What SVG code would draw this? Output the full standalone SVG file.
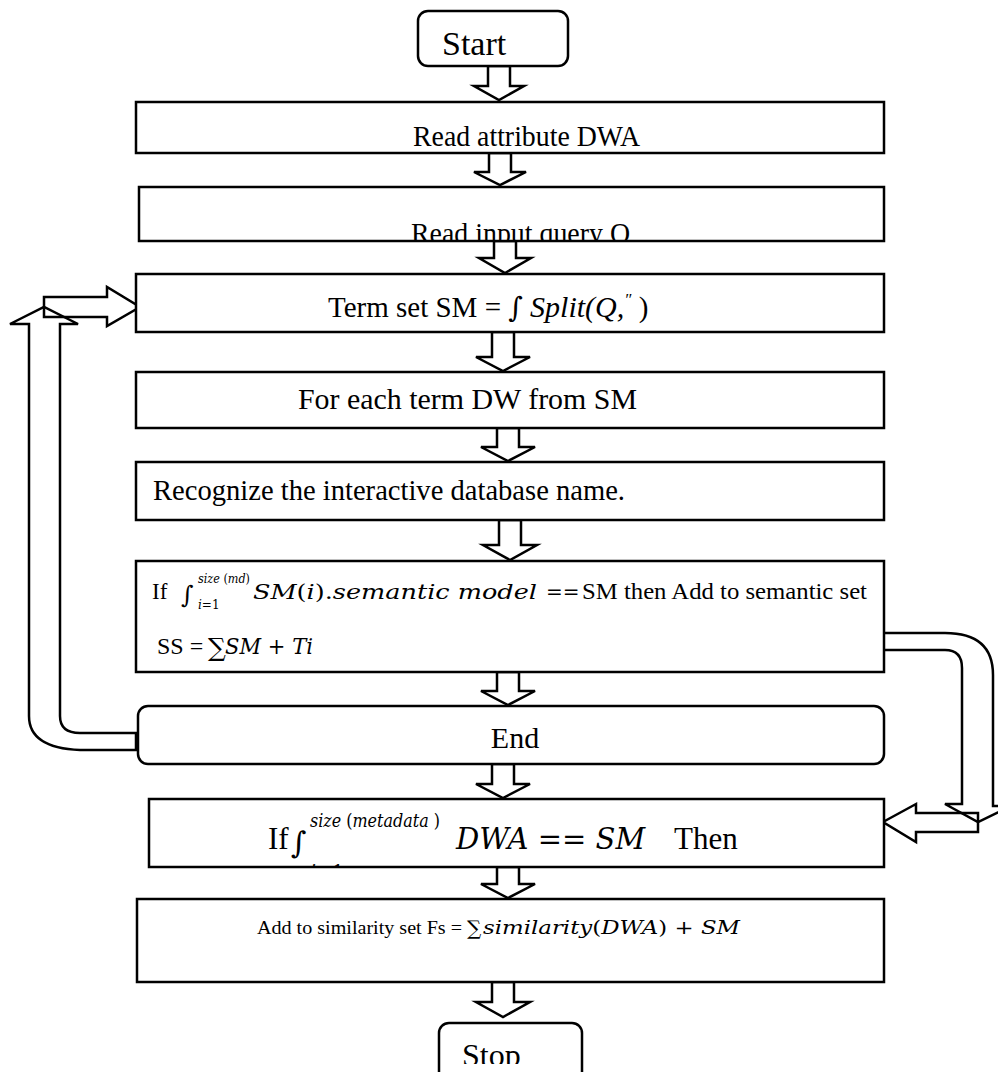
<svg xmlns="http://www.w3.org/2000/svg" width="998" height="1072" viewBox="0 0 998 1072">
  <style>
    .box { fill: #ffffff; stroke: #000000; stroke-width: 2.5; }
    .arr { fill: #ffffff; stroke: #000000; stroke-width: 2.5; stroke-linejoin: miter; }
    .link { fill: none; stroke: #000000; stroke-width: 2.5; stroke-linejoin: miter; }
    text { fill: #000000; }
    .t { font-family: 'Liberation Serif', 'Times New Roman', serif; }
    .m { font-family: 'DejaVu Serif', serif; font-style: italic; }
    .mi { font-family: 'Liberation Serif', 'Times New Roman', serif; font-style: italic; }
    .sym { font-family: 'DejaVu Serif', serif; font-style: normal; }
  </style>
  <defs>
    <clipPath id="clipQuery"><rect x="139" y="187" width="745" height="54"/></clipPath>
    <clipPath id="clipIfMeta"><rect x="149" y="799" width="735" height="67"/></clipPath>
    <clipPath id="clipStop"><rect x="0" y="1020" width="998" height="44"/></clipPath>
  </defs>

  <rect width="998" height="1072" fill="#ffffff"/>

  <!-- connectors -->
  <g id="connectors">
    <!-- straight hollow arrows between consecutive steps -->
    <path class="arr" d="M488,66 V86 H474 L499,100 L524,86 H510 V66 Z"/>
    <path class="arr" d="M489,153 V172 H474 L500,185 L526,172 H511 V153 Z"/>
    <path class="arr" d="M494,241 V258 H479 L505,273 L531,258 H516 V241 Z"/>
    <path class="arr" d="M492,332 V357 H476 L503,371 L530,357 H514 V332 Z"/>
    <path class="arr" d="M497,428 V447 H481 L508,461 L535,447 H519 V428 Z"/>
    <path class="arr" d="M499,520 V545 H483 L510,560 L537,545 H521 V520 Z"/>
    <path class="arr" d="M497,672 V691 H481 L508,705 L535,691 H519 V672 Z"/>
    <path class="arr" d="M492,764 V784 H476 L503,798 L530,784 H514 V764 Z"/>
    <path class="arr" d="M497,867 V884 H481 L508,898 L535,884 H519 V867 Z"/>
    <path class="arr" d="M492,982 V1002 H476 L503,1017 L530,1002 H514 V982 Z"/>

    <!-- loop back from End to Term set -->
    <path class="link" d="M136,750 H80 Q29,748 29,716 V324 H10 L44,307 L78,324 H60 V716 Q60,733 80,733 H136 Z"/>
    <path class="link" d="M44,297 H107 V287 L140,307 L107,326 V317 H44 Z"/>

    <!-- branch from semantic check to metadata check -->
    <path class="link" d="M884,633 H945 Q993,633 993,675 V806 H1011 L978,822 L945,804 H962 V668 Q962,650 945,650 H884"/>
    <path class="link" d="M978,813 H916 V804 L883,822 L916,842 V832 H978 Z"/>
  </g>

  <!-- Start -->
  <g id="start">
    <rect class="box" x="418" y="11" width="150" height="55" rx="10"/>
    <text class="t" font-family="Liberation Serif" x="442" y="55" font-size="34">Start</text>
  </g>

  <g id="read-attribute">
    <rect class="box" x="136" y="102" width="748" height="51"/>
    <text class="t" font-family="Liberation Serif" x="413" y="146" font-size="30" textLength="227" lengthAdjust="spacingAndGlyphs">Read attribute DWA</text>
  </g>

  <g id="read-query">
    <rect class="box" x="139" y="187" width="745" height="54"/>
    <text class="t" font-family="Liberation Serif" x="411" y="243" font-size="30" textLength="219" lengthAdjust="spacingAndGlyphs" clip-path="url(#clipQuery)">Read input query Q</text>
  </g>

  <g id="term-set">
    <rect class="box" x="136" y="274" width="748" height="58"/>
    <text class="t" font-family="Liberation Serif" x="328" y="317" font-size="29">Term set SM = <tspan class="sym" font-size="28">∫</tspan> <tspan class="mi" font-size="30">Split(Q,</tspan><tspan class="mi" font-size="17" dy="-12">″</tspan><tspan dy="12"> )</tspan></text>
  </g>

  <g id="for-each">
    <rect class="box" x="136" y="372" width="748" height="56"/>
    <text class="t" font-family="Liberation Serif" x="298" y="409" font-size="30" textLength="339" lengthAdjust="spacingAndGlyphs">For each term DW from SM</text>
  </g>

  <g id="recognize">
    <rect class="box" x="136" y="462" width="748" height="58"/>
    <text class="t" font-family="Liberation Serif" x="153" y="500" font-size="30" textLength="472" lengthAdjust="spacingAndGlyphs">Recognize the interactive database name.</text>
  </g>

  <g id="semantic-check">
    <rect class="box" x="136" y="561" width="748" height="111"/>
    <text class="t" font-family="Liberation Serif" x="152" y="599" font-size="23">If</text>
    <text class="sym" x="181" y="603" font-size="24">∫</text>
    <text class="m" x="198" y="583" font-size="12" textLength="52" lengthAdjust="spacingAndGlyphs">size<tspan class="sym"> (</tspan>md<tspan class="sym">)</tspan></text>
    <text class="m" x="198" y="609" font-size="12">i<tspan class="sym">=1</tspan></text>
    <text class="m" x="253" y="599" font-size="21" textLength="284" lengthAdjust="spacingAndGlyphs">SM<tspan class="sym">(</tspan>i<tspan class="sym">).</tspan>semantic model</text>
    <text class="sym" x="546" y="599" font-size="20">==</text>
    <text class="t" font-family="Liberation Serif" x="582" y="599" font-size="24" textLength="285" lengthAdjust="spacingAndGlyphs">SM then Add to semantic set</text>
    <text class="t" font-family="Liberation Serif" x="157" y="654" font-size="24">SS =</text>
    <text class="sym" x="208" y="656" font-size="25">∑</text>
    <text class="m" x="225" y="654" font-size="23" textLength="88" lengthAdjust="spacingAndGlyphs">SM <tspan class="sym" font-style="normal">+</tspan> Ti</text>
  </g>

  <g id="end">
    <rect class="box" x="138" y="706" width="746" height="58" rx="10"/>
    <text class="t" font-family="Liberation Serif" x="515" y="748" font-size="30" text-anchor="middle">End</text>
  </g>

  <g id="metadata-check">
    <rect class="box" x="149" y="799" width="735" height="68"/>
    <g clip-path="url(#clipIfMeta)">
      <text class="t" font-family="Liberation Serif" x="268" y="849" font-size="31">If</text>
      <text class="sym" x="291" y="853" font-size="30">∫</text>
      <text class="m" x="310" y="827" font-size="19" textLength="130" lengthAdjust="spacingAndGlyphs">size<tspan class="sym"> (</tspan>metadata<tspan class="sym"> )</tspan></text>
      <text class="m" x="310" y="878" font-size="19">i<tspan class="sym">=1</tspan></text>
      <text class="m" x="456" y="849" font-size="29">DWA <tspan class="sym">==</tspan> SM</text>
      <text class="t" font-family="Liberation Serif" x="674" y="849" font-size="31">Then</text>
    </g>
  </g>

  <g id="similarity">
    <rect class="box" x="137" y="899" width="747" height="83"/>
    <text class="t" font-family="Liberation Serif" x="257" y="934" font-size="19" textLength="205" lengthAdjust="spacingAndGlyphs">Add to similarity set Fs =</text>
    <text class="sym" x="467" y="935" font-size="20">∑</text>
    <text class="m" x="483" y="934" font-size="19" textLength="257" lengthAdjust="spacingAndGlyphs">similarity<tspan class="sym">(</tspan>DWA<tspan class="sym">) + </tspan>SM</text>
  </g>

  <g id="stop">
    <rect class="box" x="439" y="1023" width="143" height="60" rx="10"/>
    <text class="t" font-family="Liberation Serif" x="462" y="1066" font-size="32" clip-path="url(#clipStop)">Stop</text>
  </g>
</svg>
